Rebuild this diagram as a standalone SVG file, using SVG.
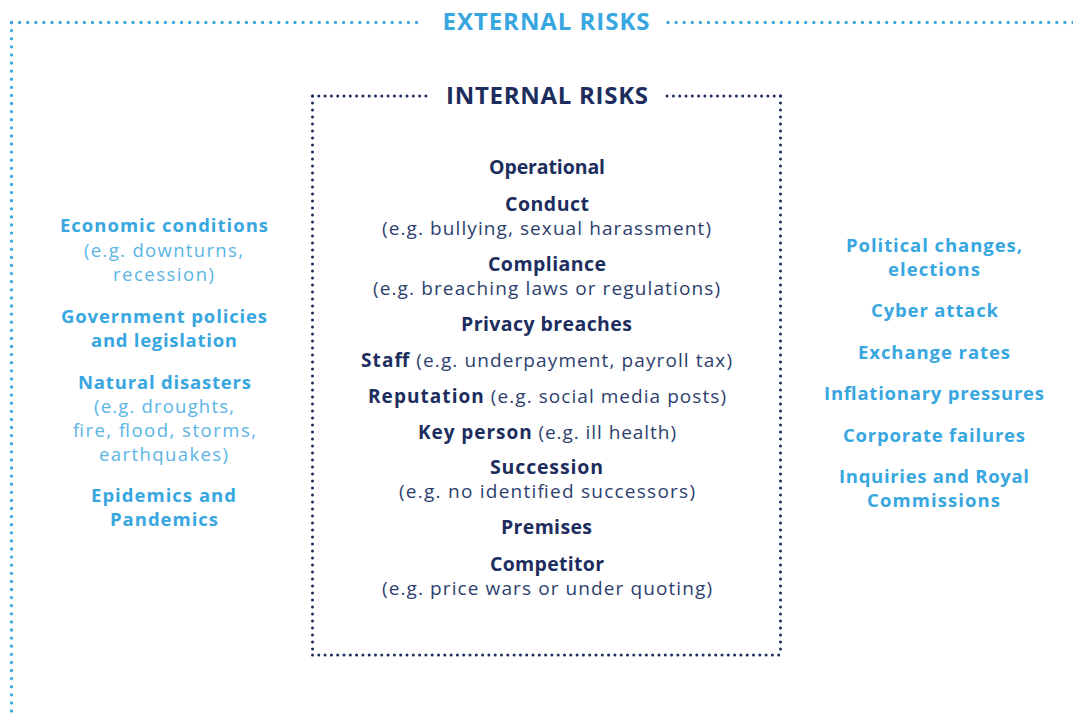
<svg xmlns="http://www.w3.org/2000/svg" width="1073" height="714" viewBox="0 0 1073 714">
  <style>
    text { font-family: "Open Sans", "Liberation Sans", sans-serif; text-anchor: middle; }
    .title { font-size: 24px; font-weight: 700; }
    .ext { fill: #38a6df; }
    .int { fill: #1c2d5e; }
    .h { font-size: 19.5px; font-weight: 700; fill: #1c2d5e; }
    .s { font-size: 19px; font-weight: 400; fill: #2c3f6e; }
    .b { font-weight: 700; fill: #1c2d5e; }
    .sh { font-size: 18.5px; font-weight: 700; fill: #38a6df; }
    .ss { font-size: 18.5px; font-weight: 400; fill: #5ab5e5; }
    .outer { fill: none; stroke: #3aa7e0; stroke-width: 3.3; stroke-linecap: round; stroke-dasharray: 0 8.1; }
    .inner-h { fill: none; stroke: #1c2d5e; stroke-width: 3; stroke-linecap: round; stroke-dasharray: 0 6.3; }
    .inner-v { fill: none; stroke: #1c2d5e; stroke-width: 3; stroke-linecap: round; stroke-dasharray: 0 7; }
  </style>

  <rect width="1073" height="714" fill="#ffffff"/>

  <!-- dotted frames -->
  <g id="frames">
    <!-- external frame (open to the right and bottom) -->
    <path class="outer" d="M11.5,22.5 H424"/>
    <path class="outer" d="M11.5,22.5 V714"/>
    <path class="outer" d="M1073,22.5 H667"/>
    <!-- internal frame -->
    <path class="inner-h" d="M312.5,96 H429"/>
    <path class="inner-h" d="M780.5,96 H664"/>
    <path class="inner-h" d="M312.5,655 H781"/>
    <path class="inner-v" d="M312.5,96 V655"/>
    <path class="inner-v" d="M780.5,96 V655"/>
  </g>

  <g id="external-title">
    <text class="title ext" x="546" y="30" textLength="207">EXTERNAL RISKS</text>
  </g>
  <g id="internal-title">
    <text class="title int" x="547" y="104" textLength="202">INTERNAL RISKS</text>
  </g>

  <!-- internal risks list -->
  <g id="internal-risks">
    <text class="h" x="547" y="174" textLength="116">Operational</text>
    <text class="h" x="547" y="210.5" textLength="84">Conduct</text>
    <text class="s" x="546.5" y="234.5" textLength="329">(e.g. bullying, sexual harassment)</text>
    <text class="h" x="547" y="271" textLength="118">Compliance</text>
    <text class="s" x="546.5" y="295" textLength="347">(e.g. breaching laws or regulations)</text>
    <text class="h" x="546.5" y="331" textLength="171">Privacy breaches</text>
    <text class="s" x="546.5" y="366.5" textLength="371"><tspan class="b">Staff</tspan> (e.g. underpayment, payroll tax)</text>
    <text class="s" x="547" y="403" textLength="358"><tspan class="b">Reputation</tspan> (e.g. social media posts)</text>
    <text class="s" x="547" y="438.5" textLength="258"><tspan class="b">Key person</tspan> (e.g. ill health)</text>
    <text class="h" x="546.5" y="473.5" textLength="113">Succession</text>
    <text class="s" x="547" y="498" textLength="296">(e.g. no identified successors)</text>
    <text class="h" x="546.5" y="534" textLength="91">Premises</text>
    <text class="h" x="547" y="571" textLength="114">Competitor</text>
    <text class="s" x="547" y="595" textLength="330">(e.g. price wars or under quoting)</text>
  </g>

  <!-- external risks, left column -->
  <g id="external-left">
    <text class="sh" x="164" y="232" textLength="208">Economic conditions</text>
    <text class="ss" x="163.5" y="256.5" textLength="159">(e.g. downturns,</text>
    <text class="ss" x="163.5" y="281" textLength="101">recession)</text>
    <text class="sh" x="164" y="322.5" textLength="206">Government policies</text>
    <text class="sh" x="164" y="346.5" textLength="146">and legislation</text>
    <text class="sh" x="164.5" y="388.5" textLength="173">Natural disasters</text>
    <text class="ss" x="164" y="412.5" textLength="140">(e.g. droughts,</text>
    <text class="ss" x="164.5" y="436.5" textLength="183">fire, flood, storms,</text>
    <text class="ss" x="163.5" y="460.5" textLength="129">earthquakes)</text>
    <text class="sh" x="163.5" y="502" textLength="145">Epidemics and</text>
    <text class="sh" x="164" y="526" textLength="108">Pandemics</text>
  </g>

  <!-- external risks, right column -->
  <g id="external-right">
    <text class="sh" x="934" y="251.5" textLength="176">Political changes,</text>
    <text class="sh" x="934" y="275.5" textLength="92">elections</text>
    <text class="sh" x="934.5" y="317" textLength="127">Cyber attack</text>
    <text class="sh" x="934" y="358.5" textLength="152">Exchange rates</text>
    <text class="sh" x="934" y="400" textLength="220">Inflationary pressures</text>
    <text class="sh" x="934" y="441.5" textLength="182">Corporate failures</text>
    <text class="sh" x="934" y="483" textLength="190">Inquiries and Royal</text>
    <text class="sh" x="933.5" y="507" textLength="133">Commissions</text>
  </g>
</svg>
